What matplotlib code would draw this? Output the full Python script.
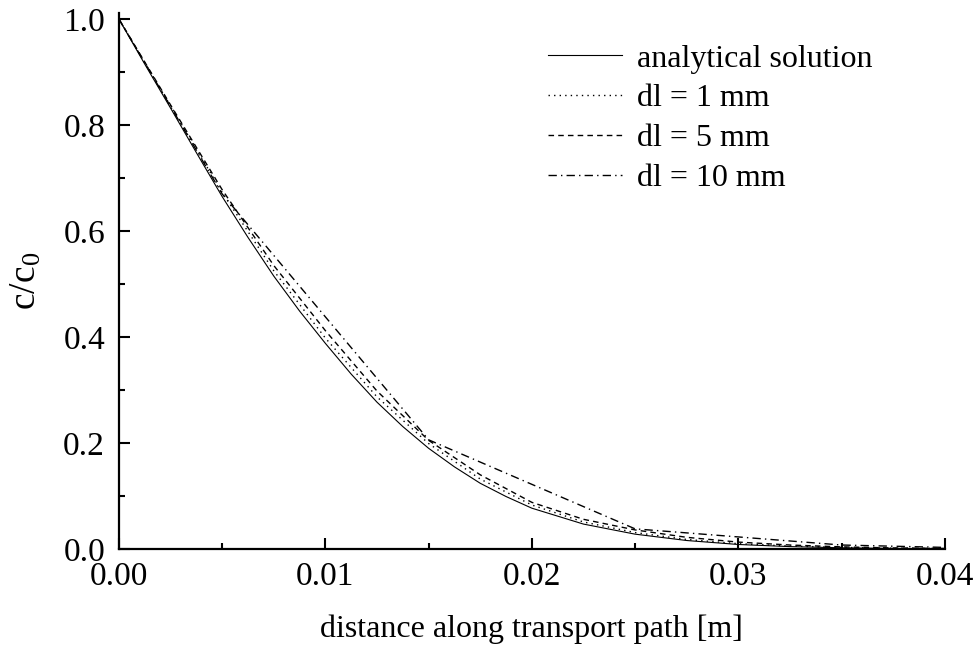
import matplotlib
matplotlib.use('Agg')
import matplotlib.pyplot as plt
from matplotlib.ticker import MultipleLocator

plt.rcParams['font.family'] = ['Liberation Serif', 'DejaVu Serif']
plt.rcParams['mathtext.fontset'] = 'custom'
plt.rcParams['mathtext.rm'] = 'Liberation Serif'
plt.rcParams['mathtext.it'] = 'Liberation Serif:italic'

# distance along path [m]
x_ana = [0.0, 0.00125, 0.0025, 0.00375, 0.005, 0.00625, 0.0075, 0.00875, 0.01,
         0.01125, 0.0125, 0.01375, 0.015, 0.01625, 0.0175, 0.01875, 0.02,
         0.0225, 0.025, 0.0275, 0.03, 0.0325, 0.035, 0.0375, 0.04]
c_ana = [1.0, 0.915, 0.832, 0.748, 0.665, 0.588, 0.515, 0.449, 0.388,
         0.330, 0.277, 0.231, 0.19, 0.155, 0.124, 0.099, 0.077,
         0.047, 0.028, 0.016, 0.0085, 0.0045, 0.0022, 0.001, 0.0005]

x_num = [0.0, 0.0025, 0.005, 0.0075, 0.01, 0.0125, 0.015, 0.0175, 0.02,
         0.0225, 0.025, 0.0275, 0.03, 0.0325, 0.035, 0.0375, 0.04]
c_dl1 = [1.0, 0.836, 0.673, 0.525, 0.398, 0.287, 0.199, 0.132, 0.083,
         0.051, 0.031, 0.018, 0.010, 0.0055, 0.003, 0.0015, 0.001]
c_dl5 = [1.0, 0.838, 0.678, 0.535, 0.412, 0.298, 0.205, 0.14, 0.088,
         0.056, 0.036, 0.022, 0.013, 0.0075, 0.004, 0.002, 0.001]
x_dl10 = [0.0, 0.005, 0.015, 0.025, 0.035, 0.04]
c_dl10 = [1.0, 0.67, 0.206, 0.038, 0.0075, 0.003]

fs = 23

fig = plt.figure(figsize=(9.75, 6.5), dpi=100)
ax = fig.add_axes([0.122, 0.1554, 0.847, 0.825])

ax.plot(x_ana, c_ana, color='black', lw=0.8, ls='-', label='analytical solution')
ax.plot(x_num, c_dl1, color='black', lw=1.0, ls=(0, (1, 3)), label='dl = 1 mm')
ax.plot(x_num, c_dl5, color='black', lw=1.0, ls=(0, (4, 3)), label='dl = 5 mm')
ax.plot(x_dl10, c_dl10, color='black', lw=1.0, ls=(0, (6, 3, 1, 3)), label='dl = 10 mm')

ax.set_xlim(0, 0.04)
ax.set_ylim(0, 1.012)
ax.xaxis.set_major_locator(MultipleLocator(0.01))
ax.xaxis.set_minor_locator(MultipleLocator(0.005))
ax.yaxis.set_major_locator(MultipleLocator(0.2))
ax.yaxis.set_minor_locator(MultipleLocator(0.1))
ax.set_xticklabels([f'{v:.2f}' for v in ax.get_xticks()])
ax.set_yticklabels([f'{v:.1f}' for v in ax.get_yticks()])

for s in ['top', 'right']:
    ax.spines[s].set_visible(False)
for s in ['left', 'bottom']:
    ax.spines[s].set_linewidth(1.6)

ax.tick_params(which='major', direction='in', length=8, width=1.5, labelsize=24, pad=9)
ax.tick_params(which='minor', direction='in', length=4.5, width=1.5)
ax.tick_params(axis='y', which='major', pad=10)

ax.set_xlabel('distance along transport path [m]', fontsize=fs, labelpad=16)
ax.set_ylabel(r'c/c$_\mathrm{0}$', fontsize=27, labelpad=14)

ax.legend(loc='upper left', bbox_to_anchor=(0.562, 0.932), bbox_transform=fig.transFigure,
          frameon=False, fontsize=fs, borderpad=0, borderaxespad=0,
          handlelength=2.32, handletextpad=0.47, labelspacing=0.33)

fig.savefig('out.png', dpi=100)
